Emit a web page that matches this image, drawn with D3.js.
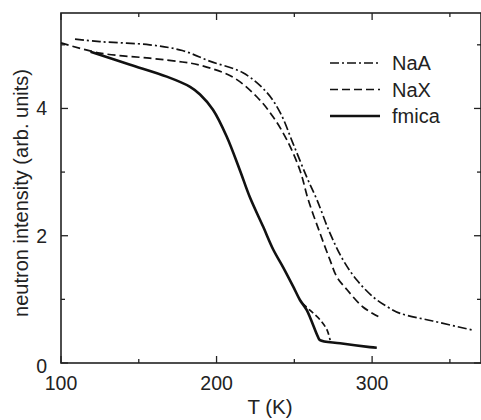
<!DOCTYPE html>
<html lang="en">
<head>
    <meta charset="UTF-8">
    <title>neutron intensity vs T</title>
    <script src="https://d3js.org/d3.v7.min.js"></script>
    <style>
        body { margin: 0; background: #fff; }
        svg { display: block; font-family: "Liberation Sans", Arial, sans-serif; }
    </style>
</head>
<body>
    <script>
        const w = 481;
        const h = 420;
        const margin = { top: 13, right: 0, bottom: 57, left: 61 };

        // data (T in K, intensity in arb. units)
        const naaT = [109, 125, 157, 178, 196, 217, 232, 241, 249, 258, 264.6, 272.9, 281.3, 290.3, 300.6, 310, 318, 339, 364];
        const naaI = [5.09, 5.05, 5.0, 4.91, 4.74, 4.56, 4.26, 3.93, 3.46, 2.92, 2.56, 2.04, 1.62, 1.30, 1.04, 0.88, 0.78, 0.66, 0.52];

        const naxT = [100, 125, 157, 178, 189.4, 210.6, 226, 236.3, 245.3, 253.6, 259, 266.5, 272.9, 277.4, 283.9, 294.1, 304];
        const naxI = [5.03, 4.87, 4.79, 4.73, 4.68, 4.49, 4.18, 3.87, 3.5, 3.03, 2.56, 2.04, 1.62, 1.35, 1.15, 0.88, 0.73];

        const fmicaT = [119, 144, 168, 183, 189.4, 197.7, 206.5, 215, 221.5, 230, 236.5, 242.9, 249.3, 253.6, 258, 265.2, 266.5, 279.4, 298.6, 303];
        const fmicaI = [4.89, 4.69, 4.5, 4.34, 4.22, 3.98, 3.56, 3.03, 2.6, 2.14, 1.78, 1.5, 1.2, 0.99, 0.83, 0.41, 0.36, 0.31, 0.25, 0.24];

        // dashed branch next to fmica near the kink
        const branchT = [255, 260, 266.5, 271, 273];
        const branchI = [0.94, 0.83, 0.68, 0.52, 0.36];

        const xTicks = [100, 200, 300];
        const xMinor = [150, 250, 350];
        const yTicks = [0, 2, 4];
        const yMinor = [1, 3, 5];

        const svg = d3.select("body")
                      .append("svg")
                      .attr("width", w)
                      .attr("height", h);

        const xScale = d3.scaleLinear()
                         .domain([100, 370])
                         .range([margin.left, w - margin.right]);
        const yScale = d3.scaleLinear()
                         .domain([0, 5.5])
                         .range([h - margin.bottom, margin.top]);

        const x0 = xScale.range()[0], x1 = xScale.range()[1];
        const y0 = yScale.range()[0], y1 = yScale.range()[1];

        // frame
        svg.append("rect")
           .attr("x", x0).attr("y", y1)
           .attr("width", x1 - x0).attr("height", y0 - y1)
           .attr("fill", "none")
           .attr("stroke", "#222")
           .attr("stroke-width", 1.6);

        // ticks pointing inwards on all four sides
        const tickG = svg.append("g").attr("stroke", "#222").attr("stroke-width", 1.3);
        const addX = (vals, len) => vals.forEach(v => {
            tickG.append("line").attr("x1", xScale(v)).attr("x2", xScale(v)).attr("y1", y0).attr("y2", y0 - len);
            tickG.append("line").attr("x1", xScale(v)).attr("x2", xScale(v)).attr("y1", y1).attr("y2", y1 + len);
        });
        const addY = (vals, len) => vals.forEach(v => {
            tickG.append("line").attr("y1", yScale(v)).attr("y2", yScale(v)).attr("x1", x0).attr("x2", x0 + len);
            tickG.append("line").attr("y1", yScale(v)).attr("y2", yScale(v)).attr("x1", x1).attr("x2", x1 - len);
        });
        addX(xTicks, 7);
        addX(xMinor, 4);
        addY(yTicks, 7);
        addY(yMinor, 4);

        // tick labels
        svg.append("g").selectAll("text")
           .data(xTicks).enter().append("text")
           .attr("x", d => xScale(d))
           .attr("y", 390)
           .attr("text-anchor", "middle")
           .attr("font-size", 19.5)
           .attr("fill", "#222")
           .text(d => d);

        svg.append("g").selectAll("text")
           .data(yTicks).enter().append("text")
           .attr("x", 47)
           .attr("y", d => yScale(d) + 7 + (d === 0 ? 3 : 0))
           .attr("text-anchor", "end")
           .attr("font-size", 19.5)
           .attr("fill", "#222")
           .text(d => d);

        // axis titles
        svg.append("text")
           .attr("x", 270)
           .attr("y", 414)
           .attr("text-anchor", "middle")
           .attr("font-size", 20.5)
           .attr("fill", "#222")
           .text("T (K)");

        svg.append("text")
           .attr("transform", "translate(28, 193) rotate(-90)")
           .attr("text-anchor", "middle")
           .attr("font-size", 20)
           .attr("fill", "#222")
           .text("neutron intensity (arb. units)");

        const line = d3.line()
                       .x(d => xScale(d[0]))
                       .y(d => yScale(d[1]))
                       .curve(d3.curveCatmullRom.alpha(0.5));

        const series = [
            { name: "NaA", T: naaT, I: naaI, dash: "9,3,2,3", width: 1.7 },
            { name: "NaX", T: naxT, I: naxI, dash: "8,4", width: 1.7 },
            { name: "fmica", T: fmicaT, I: fmicaI, dash: null, width: 2.6 }
        ];

        series.forEach(s => {
            svg.append("path")
               .datum(s.T.map((t, i) => [t, s.I[i]]))
               .attr("d", line)
               .attr("fill", "none")
               .attr("stroke", "#111")
               .attr("stroke-width", s.width)
               .attr("stroke-dasharray", s.dash);
        });

        svg.append("path")
           .datum(branchT.map((t, i) => [t, branchI[i]]))
           .attr("d", line)
           .attr("fill", "none")
           .attr("stroke", "#111")
           .attr("stroke-width", 1.7)
           .attr("stroke-dasharray", "6,3");

        // legend
        const legend = svg.append("g");
        series.forEach((s, i) => {
            const ly = 63 + i * 26.5;
            legend.append("line")
                  .attr("x1", 330).attr("x2", 380)
                  .attr("y1", ly).attr("y2", ly)
                  .attr("stroke", "#111")
                  .attr("stroke-width", s.width)
                  .attr("stroke-dasharray", s.dash);
            legend.append("text")
                  .attr("x", 392)
                  .attr("y", ly + 7)
                  .attr("font-size", 20)
                  .attr("fill", "#222")
                  .text(s.name);
        });
    </script>
</body>
</html>
